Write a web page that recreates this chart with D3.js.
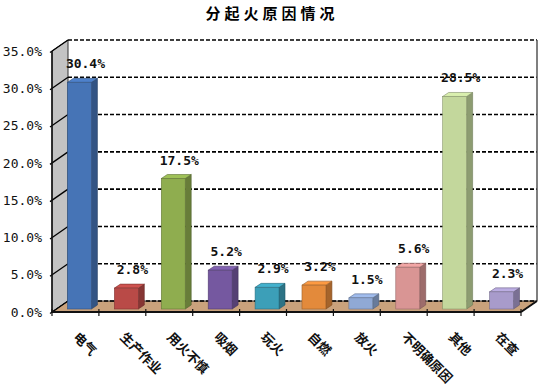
<!DOCTYPE html>
<html>
<head>
<meta charset="utf-8">
<script src="https://cdn.jsdelivr.net/npm/d3@7"></script>
<style>
  body { margin: 0; background: #fff; }
</style>
</head>
<body>
<div id="chart"></div>
<script>
// data
var categories = ["电气", "生产作业", "用火不慎", "吸烟", "玩火", "自燃", "放火", "不明确原因", "其他", "在查"];
var values = [30.4, 2.8, 17.5, 5.2, 2.9, 3.2, 1.5, 5.6, 28.5, 2.3];
var colors = ["#4674b6", "#b94a47", "#8fad4f", "#7558a0", "#3c9fb8", "#e38a3b", "#90a9d5", "#d99594", "#c3d79c", "#a89bcb"];
var yTicks = [0, 5, 10, 15, 20, 25, 30, 35];

var W = 543, H = 386;
var dx = 16, dy = -11;      // depth of the 3d box
var bdx = 6, bdy = -4;      // depth of a bar
var fdx = 4, fdy = -3;      // bar front face offset from front plane

var svg = d3.select("#chart").append("svg")
    .attr("width", W)
    .attr("height", H);

var x = d3.scaleBand()
    .domain(categories)
    .range([52, 521])
    .paddingInner(0.49)
    .paddingOuter(0.245);

var y = d3.scaleLinear()
    .domain([0, 35])
    .range([312, 51]);

var left = 52, right = 521, y0 = y(0), yTop = y(35);

// title
svg.append("text")
    .attr("x", 272)
    .attr("y", 19)
    .attr("text-anchor", "middle")
    .style("font-family", "Noto Sans CJK SC")
    .style("font-weight", "bold")
    .style("font-size", "15px")
    .style("letter-spacing", "4px")
    .text("分起火原因情况");

// left side wall
svg.append("polygon")
    .attr("points", [[left, y0], [left + dx, y0 + dy], [left + dx, yTop + dy], [left, yTop]].join(" "))
    .attr("fill", "#c3c3c3")
    .attr("stroke", "#333")
    .attr("stroke-width", 1);

// floor
svg.append("polygon")
    .attr("points", [[left, y0], [left + dx, y0 + dy], [right + dx, y0 + dy], [right, y0]].join(" "))
    .attr("fill", "#c9a27c")
    .attr("stroke", "#222")
    .attr("stroke-width", 1);

// back wall gridlines
svg.append("g").selectAll("line")
    .data(yTicks.filter(function(d){ return d > 0; }))
    .join("line")
    .attr("x1", left + dx)
    .attr("x2", right + dx)
    .attr("y1", function(d){ return y(d) + dy; })
    .attr("y2", function(d){ return y(d) + dy; })
    .attr("stroke", "#000")
    .attr("stroke-width", 1.6)
    .attr("stroke-dasharray", "4,2");

// dashed back line on the floor
svg.append("line")
    .attr("x1", left + dx).attr("x2", right + dx)
    .attr("y1", y0 + dy).attr("y2", y0 + dy)
    .attr("stroke", "#000")
    .attr("stroke-width", 1.4)
    .attr("stroke-dasharray", "4,2");

// right edge of back wall
svg.append("line")
    .attr("x1", right + dx).attr("x2", right + dx)
    .attr("y1", yTop + dy).attr("y2", y0 + dy)
    .attr("stroke", "#555")
    .attr("stroke-width", 1.5);

// diagonal ticks on side wall
svg.append("g").selectAll("line")
    .data(yTicks)
    .join("line")
    .attr("x1", left - 2)
    .attr("y1", function(d){ return y(d) + 1.5; })
    .attr("x2", left + dx)
    .attr("y2", function(d){ return y(d) + dy; })
    .attr("stroke", "#000")
    .attr("stroke-width", 1.3);

// y axis labels
var yAxis = d3.axisLeft(y)
    .tickValues(yTicks)
    .tickSize(0)
    .tickPadding(10)
    .tickFormat(function(d){ return d3.format(".1f")(d) + "%"; });

svg.append("g")
    .attr("transform", "translate(" + left + ",0)")
    .call(yAxis)
    .call(function(g){ g.select(".domain").remove(); })
    .selectAll("text")
    .style("font-family", "DejaVu Sans Mono")
    .style("font-size", "13px")
    .attr("fill", "#111");

// front axis line
svg.append("line")
    .attr("x1", left).attr("x2", left)
    .attr("y1", yTop).attr("y2", y0)
    .attr("stroke", "#111")
    .attr("stroke-width", 1.5);

// bars
var bars = svg.append("g").selectAll("g")
    .data(categories)
    .join("g");

bars.each(function(c, i){
    var g = d3.select(this);
    var col = d3.color(colors[i]);
    var x0 = x(c) + fdx, x1 = x0 + x.bandwidth();
    var yb = y0 + fdy, yt = y(values[i]) + fdy;
    // side
    g.append("polygon")
        .attr("points", [[x1, yb], [x1 + bdx, yb + bdy], [x1 + bdx, yt + bdy], [x1, yt]].join(" "))
        .attr("fill", col.darker(0.9))
        .attr("stroke", col.darker(1.6))
        .attr("stroke-width", 0.6);
    // top
    g.append("polygon")
        .attr("points", [[x0, yt], [x0 + bdx, yt + bdy], [x1 + bdx, yt + bdy], [x1, yt]].join(" "))
        .attr("fill", col.brighter(0.3))
        .attr("stroke", col.darker(1.2))
        .attr("stroke-width", 0.6);
    // front
    g.append("rect")
        .attr("x", x0)
        .attr("y", yt)
        .attr("width", x.bandwidth())
        .attr("height", yb - yt)
        .attr("fill", col)
        .attr("stroke", col.darker(1))
        .attr("stroke-width", 0.6);
});

// front floor edge and category ticks
svg.append("line")
    .attr("x1", left).attr("x2", right)
    .attr("y1", y0).attr("y2", y0)
    .attr("stroke", "#111")
    .attr("stroke-width", 2);

svg.append("g").selectAll("line")
    .data(d3.range(categories.length + 1))
    .join("line")
    .attr("x1", function(i){ return left + i * x.step(); })
    .attr("x2", function(i){ return left + i * x.step(); })
    .attr("y1", y0 - 3)
    .attr("y2", y0 + 4)
    .attr("stroke", "#111")
    .attr("stroke-width", 1.2);

// right floor edge
svg.append("line")
    .attr("x1", right).attr("y1", y0)
    .attr("x2", right + dx).attr("y2", y0 + dy)
    .attr("stroke", "#111")
    .attr("stroke-width", 2);

// value labels
svg.append("g").selectAll("text")
    .data(categories)
    .join("text")
    .attr("x", function(c){ return x(c) + x.bandwidth() / 2 + 10; })
    .attr("y", function(c, i){ return y(values[i]) + fdy - 14; })
    .attr("text-anchor", "middle")
    .style("font-family", "DejaVu Sans Mono")
    .style("font-weight", "bold")
    .style("font-size", "13px")
    .attr("fill", "#111")
    .text(function(c, i){ return values[i].toFixed(1) + "%"; });

// category labels
svg.append("g").selectAll("text")
    .data(categories)
    .join("text")
    .attr("transform", function(c){
        return "translate(" + (x(c) + x.bandwidth() / 2 - 3) + "," + 338 + ") rotate(45)";
    })
    .style("font-family", "Noto Sans CJK SC")
    .style("font-weight", "bold")
    .style("font-size", "13px")
    .attr("fill", "#111")
    .text(function(c){ return c; });
</script>
</body>
</html>
